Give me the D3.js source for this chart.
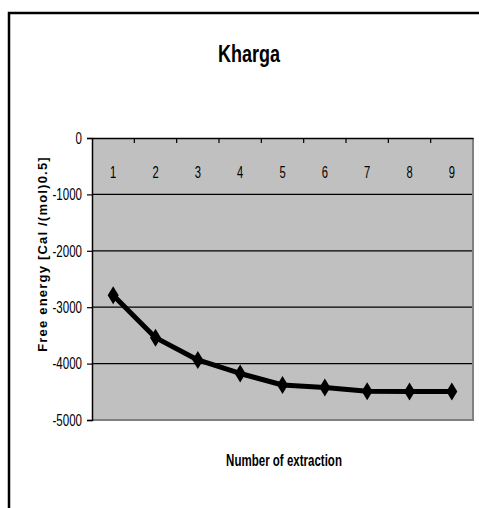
<!DOCTYPE html>
<html>
<head>
<meta charset="utf-8">
<script src="https://cdn.jsdelivr.net/npm/d3@7"></script>
<style>
	body { margin: 0; background: #fff; }
	svg { display: block; }
</style>
</head>
<body>
<svg></svg>
<script>
const extractions = [1, 2, 3, 4, 5, 6, 7, 8, 9];
const freeEnergy = [-2790, -3540, -3935, -4175, -4380, -4425, -4490, -4495, -4495];
const yTicks = [0, -1000, -2000, -3000, -4000, -5000];

const width = 479;
const height = 508;
const margin = { top: 138, right: 6, bottom: 88, left: 92 };
const innerWidth = width - margin.left - margin.right;
const innerHeight = height - margin.top - margin.bottom;
const narrow = 0.7;
const font = "'Liberation Sans', Arial, sans-serif";

const svg = d3.select('svg')
	.attr('width', width)
	.attr('height', height);

// outer frame
svg.append('rect')
	.attr('x', 9)
	.attr('y', 13)
	.attr('width', 500)
	.attr('height', 520)
	.attr('fill', 'none')
	.attr('stroke', '#000')
	.attr('stroke-width', 2.5);

svg.append('text')
	.attr('transform', `translate(249,62) scale(0.75,1)`)
	.attr('text-anchor', 'middle')
	.attr('font-family', font)
	.attr('font-weight', 'bold')
	.attr('font-size', 24)
	.text('Kharga');

const g = svg.append('g')
	.attr('transform', `translate(${margin.left},${margin.top})`);

const xScale = d3.scaleBand()
	.domain(extractions)
	.range([0, innerWidth]);

const yScale = d3.scaleLinear()
	.domain([-5000, 0])
	.range([innerHeight, 0]);

g.append('rect')
	.attr('width', innerWidth)
	.attr('height', innerHeight)
	.attr('fill', '#c0c0c0');

// gridlines
g.selectAll('.grid')
	.data(yTicks.filter(d => d !== 0 && d !== -5000))
	.enter().append('line')
	.attr('x1', 0)
	.attr('x2', innerWidth)
	.attr('y1', d => yScale(d))
	.attr('y2', d => yScale(d))
	.attr('stroke', '#000')
	.attr('stroke-width', 1.3);

// right and bottom border
g.append('path')
	.attr('d', `M${innerWidth},0V${innerHeight}H0`)
	.attr('fill', 'none')
	.attr('stroke', '#808080')
	.attr('stroke-width', 2);

const yAxis = d3.axisLeft(yScale)
	.tickValues(yTicks)
	.tickFormat(d => String(d))
	.tickSize(5);

const yAxisGroup = g.append('g')
	.call(yAxis)
	.attr('font-family', font)
	.attr('font-size', 16.5);
yAxisGroup.select('.domain').attr('stroke-width', 1.5);
yAxisGroup.selectAll('.tick line').attr('stroke-width', 1.2);
yAxisGroup.selectAll('.tick text')
	.attr('x', -10 / narrow)
	.attr('transform', `scale(${narrow},1)`);

const xAxis = d3.axisBottom(xScale)
	.tickSize(0)
	.tickPadding(29);

const xAxisGroup = g.append('g')
	.call(xAxis)
	.attr('font-family', font)
	.attr('font-size', 16);
xAxisGroup.select('.domain').attr('stroke-width', 1.5);
xAxisGroup.selectAll('.tick text').attr('transform', `scale(${narrow},1)`);

// category separators on the axis
g.selectAll('.xsep')
	.data(extractions.slice(1))
	.enter().append('line')
	.attr('x1', d => xScale(d))
	.attr('x2', d => xScale(d))
	.attr('y1', 0)
	.attr('y2', 5)
	.attr('stroke', '#000')
	.attr('stroke-width', 1.2);

const data = extractions.map((e, i) => ({ x: e, y: freeEnergy[i] }));

const lineGenerator = d3.line()
	.x(d => xScale(d.x) + xScale.bandwidth() / 2)
	.y(d => yScale(d.y));

g.append('path')
	.attr('d', lineGenerator(data))
	.attr('fill', 'none')
	.attr('stroke', '#000')
	.attr('stroke-width', 5)
	.attr('stroke-linejoin', 'round');

g.selectAll('.marker')
	.data(data)
	.enter().append('path')
	.attr('transform', d => `translate(${xScale(d.x) + xScale.bandwidth() / 2},${yScale(d.y)})`)
	.attr('d', 'M0,-9L5.5,0L0,9L-5.5,0Z')
	.attr('fill', '#000');

svg.append('text')
	.attr('transform', 'translate(47,254) rotate(-90)')
	.attr('text-anchor', 'middle')
	.attr('font-family', font)
	.attr('font-weight', 'bold')
	.attr('font-size', 13)
	.attr('letter-spacing', 1.2)
	.text('Free energy [Cal /(mol)0.5]');

svg.append('text')
	.attr('transform', `translate(284,466) scale(0.72,1)`)
	.attr('text-anchor', 'middle')
	.attr('font-family', font)
	.attr('font-weight', 'bold')
	.attr('font-size', 16)
	.text('Number of extraction');
</script>
</body>
</html>
